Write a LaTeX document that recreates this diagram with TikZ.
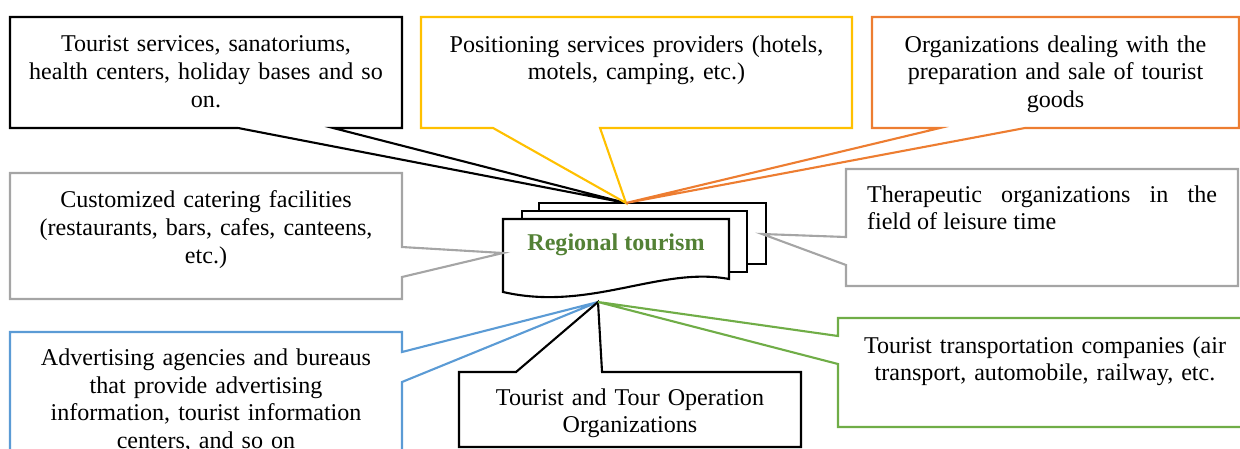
\documentclass[tikz,border=0pt]{standalone}
\usepackage{fontspec}
\setmainfont{Liberation Serif}
\usepackage{xcolor}
\usetikzlibrary{positioning,calc}

\definecolor{callyellow}{HTML}{FFC000}
\definecolor{callorange}{HTML}{ED7D31}
\definecolor{callgray}{HTML}{A5A5A5}
\definecolor{callblue}{HTML}{5B9BD5}
\definecolor{callgreen}{HTML}{70AD47}
\definecolor{hubgreen}{HTML}{538135}

\begin{document}
\begin{tikzpicture}[x=0.02cm,y=-0.02cm,
  box/.style={draw=none,inner sep=0pt,outer sep=0pt},
  boxtext/.style={inner sep=0pt,align=center,font=\fontsize{13.7}{15.9}\selectfont},
  callout/.style={line width=1.2pt,line join=miter},
  page/.style={draw,fill=white,line width=1.2pt}]

\useasboundingbox (0,0) rectangle (1240,449);
\clip (0,0) rectangle (1240,449);

% Central shape: three pages
\draw[page] (539,203) rectangle (766,264); % back page
\draw[page] (522,211) rectangle (747,272); % middle page
\draw[page] (503,219) -- (729,219) -- (729,279) .. controls (660,266) and (590,312) .. (503,292) -- cycle; % front page
\node[font=\fontsize{13.7}{15.9}\selectfont\bfseries, text=hubgreen] (hub) at (616,245) {Regional tourism};

% Tips of the pointers
\coordinate (hubtop) at (626,203);    % top of the back page
\coordinate (hubleft) at (503,253);   % left side of the front page
\coordinate (hubright) at (762,234);  % right side of the back page
\coordinate (hubbottom) at (598,302); % below the front page

% Tourist services (black, top left)
\node[box, minimum width=7.84cm, minimum height=2.22cm] (tourserv) at (206,72.5) {};
\node[boxtext, text width=7.4cm, below=0.36cm of tourserv.north] (tourserv-t) {Tourist services, sanatoriums,\\ health centers, holiday bases and so\\ on.};
\draw[callout, black] (tourserv.north west) -- (tourserv.north east) -- (tourserv.south east)
  -- ($(tourserv.south west)+(323,0)$) -- (hubtop) -- ($(tourserv.south west)+(228,0)$) -- (tourserv.south west) -- cycle;

% Accommodation providers (yellow, top middle)
\node[box, minimum width=8.62cm, minimum height=2.22cm] (lodging) at (636.5,72.5) {};
\node[boxtext, text width=8.2cm, below=0.36cm of lodging.north] (lodging-t) {Positioning services providers (hotels,\\ motels, camping, etc.)};
\draw[callout, callyellow] (lodging.north west) -- (lodging.north east) -- (lodging.south east)
  -- ($(lodging.south west)+(179,0)$) -- (hubtop) -- ($(lodging.south west)+(72,0)$) -- (lodging.south west) -- cycle;

% Tourist goods (orange, top right)
\node[box, minimum width=7.34cm, minimum height=2.22cm] (goods) at (1055.5,72.5) {};
\node[boxtext, text width=7cm, below=0.36cm of goods.north] (goods-t) {Organizations dealing with the\\ preparation and sale of tourist\\ goods};
\draw[callout, callorange] (goods.north west) -- (goods.north east) -- (goods.south east)
  -- ($(goods.south west)+(153,0)$) -- (hubtop) -- ($(goods.south west)+(68,0)$) -- (goods.south west) -- cycle;

% Therapeutic organizations (gray, right)
\node[box, minimum width=7.84cm, minimum height=2.34cm] (therapy) at (1042,227.5) {};
\node[boxtext, align=justify, text width=7cm, below=0.32cm of therapy.north] (therapy-t) {Therapeutic organizations in the\linebreak field of leisure time};
\draw[callout, callgray] (therapy.north west) -- (therapy.north east) -- (therapy.south east) -- (therapy.south west)
  -- ($(therapy.north west)+(0,96)$) -- (hubright) -- ($(therapy.north west)+(0,68)$) -- cycle;

% Catering facilities (gray, left)
\node[box, minimum width=7.84cm, minimum height=2.52cm] (catering) at (206,236) {};
\node[boxtext, text width=7.4cm, below=0.34cm of catering.north] (catering-t) {Customized catering facilities\\ (restaurants, bars, cafes, canteens,\\ etc.)};
\draw[callout, callgray] (catering.north west) -- (catering.north east) -- ($(catering.north east)+(0,74)$)
  -- (hubleft) -- ($(catering.north east)+(0,104)$) -- (catering.south east) -- (catering.south west) -- cycle;

% Advertising agencies (blue, bottom left)
\node[box, minimum width=7.84cm, minimum height=2.96cm] (advert) at (206,406) {};
\node[boxtext, text width=7.4cm, below=0.32cm of advert.north] (advert-t) {Advertising agencies and bureaus\\ that provide advertising\\ information, tourist information\\ centers, and so on};
\draw[callout, callblue] (advert.north west) -- (advert.north east) -- ($(advert.north east)+(0,20)$)
  -- (hubbottom) -- ($(advert.north east)+(0,50)$) -- (advert.south east) -- (advert.south west) -- cycle;

% Tour operators (black, bottom middle)
\node[box, minimum width=6.84cm, minimum height=1.5cm] (tourop) at (630,409.5) {};
\node[boxtext, text width=6.4cm, below=0.32cm of tourop.north] (tourop-t) {Tourist and Tour Operation\\ Organizations};
\draw[callout, black] (tourop.north west) -- ($(tourop.north west)+(57,0)$) -- (hubbottom)
  -- ($(tourop.north west)+(143,0)$) -- (tourop.north east) -- (tourop.south east) -- (tourop.south west) -- cycle;

% Transportation companies (green, bottom right)
\node[box, minimum width=8.28cm, minimum height=2.18cm] (transport) at (1045,372.5) {};
\node[boxtext, text width=7.8cm, below=0.36cm of transport.north] (transport-t) {Tourist transportation companies (air\\ transport, automobile, railway, etc.};
\draw[callout, callgreen] (transport.north west) -- (transport.north east) -- (transport.south east) -- (transport.south west)
  -- ($(transport.north west)+(0,46)$) -- (hubbottom) -- ($(transport.north west)+(0,18)$) -- cycle;

\end{tikzpicture}
\end{document}
